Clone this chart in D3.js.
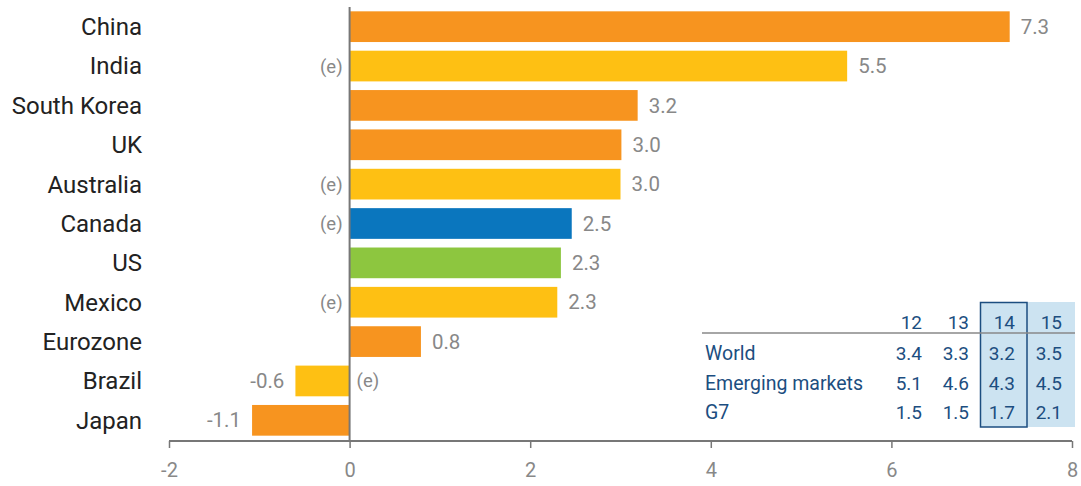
<!DOCTYPE html>
<html>
<head>
<meta charset="utf-8">
<script src="https://cdn.jsdelivr.net/npm/d3@7"></script>
<style>
  body { margin: 0; background: #fff; }
  svg { display: block; font-family: "Roboto", sans-serif; }
</style>
</head>
<body>
<div id="chart"></div>
<script>
// Bar data (bar lengths, labels shown to one decimal)
const countries = ["China", "India", "South Korea", "UK", "Australia", "Canada", "US", "Mexico", "Eurozone", "Brazil", "Japan"];
const growth = [7.31, 5.51, 3.19, 3.01, 3.0, 2.46, 2.34, 2.3, 0.79, -0.6, -1.08];
const estimated = [false, true, false, false, true, true, false, true, false, true, false];
const kinds = ["actual", "estimate", "actual", "actual", "estimate", "home", "us", "estimate", "actual", "estimate", "actual"];
const xTicks = [-2, 0, 2, 4, 6, 8];

// Inset table data
const tableYears = ["12", "13", "14", "15"];
const tableRows = ["World", "Emerging markets", "G7"];
const tableValues = [
  [3.4, 3.3, 3.2, 3.5],
  [5.1, 4.6, 4.3, 4.5],
  [1.5, 1.5, 1.7, 2.1]
];

const W = 1081, H = 486;

const svg = d3.select("#chart")
  .append("svg")
  .attr("width", W)
  .attr("height", H);

const x = d3.scaleLinear()
  .domain([-2, 8])
  .range([169, 1072]);

const y = d3.scaleBand()
  .domain(countries)
  .range([7, 440])
  .paddingInner(0.22)
  .paddingOuter(0.11);

const colour = d3.scaleOrdinal()
  .domain(["actual", "estimate", "home", "us"])
  .range(["#F7941F", "#FEC013", "#0A76BE", "#8DC63F"]);

const axisY = 441;
const fmt = d => d3.format(".1f")(d).replace("−", "-");

// bars
svg.append("g")
  .selectAll("rect")
  .data(countries)
  .join("rect")
  .attr("x", (d, i) => x(Math.min(0, growth[i])))
  .attr("y", d => y(d))
  .attr("width", (d, i) => Math.abs(x(growth[i]) - x(0)))
  .attr("height", y.bandwidth())
  .attr("fill", (d, i) => colour(kinds[i]));

// zero line
svg.append("line")
  .attr("x1", x(0)).attr("x2", x(0))
  .attr("y1", 7).attr("y2", axisY)
  .attr("stroke", "#777")
  .attr("stroke-width", 2);

// x axis
const xAxis = svg.append("g")
  .attr("transform", `translate(0,${axisY})`)
  .call(d3.axisBottom(x).tickValues(xTicks).tickSize(7).tickPadding(15).tickFormat(d => String(d)));
xAxis.select(".domain").attr("stroke", "#777").attr("stroke-width", 2).attr("d", `M${x(-2)},0H${x(8)}`);
xAxis.selectAll(".tick line").attr("stroke", "#777").attr("stroke-width", 1.5);
xAxis.selectAll(".tick text")
  .attr("fill", "#888")
  .style("font-size", "20px")
  .style("font-family", "Roboto, sans-serif");

// category labels
svg.append("g")
  .selectAll("text")
  .data(countries)
  .join("text")
  .attr("x", 142)
  .attr("y", d => y(d) + y.bandwidth() / 2)
  .attr("dy", "0.35em")
  .attr("text-anchor", "end")
  .attr("fill", "#222")
  .style("font-size", "24px")
  .text(d => d);

// value labels
svg.append("g")
  .selectAll("text")
  .data(countries)
  .join("text")
  .attr("x", (d, i) => growth[i] >= 0 ? x(growth[i]) + 11 : x(growth[i]) - 11)
  .attr("y", d => y(d) + y.bandwidth() / 2)
  .attr("dy", "0.35em")
  .attr("text-anchor", (d, i) => growth[i] >= 0 ? "start" : "end")
  .attr("fill", "#888")
  .style("font-size", "20.5px")
  .text((d, i) => fmt(growth[i]));

// (e) markers on the opposite side of zero
svg.append("g")
  .selectAll("text")
  .data(countries.filter((d, i) => estimated[i]))
  .join("text")
  .attr("x", d => growth[countries.indexOf(d)] >= 0 ? x(0) - 7 : x(0) + 7)
  .attr("y", d => y(d) + y.bandwidth() / 2)
  .attr("dy", "0.35em")
  .attr("text-anchor", d => growth[countries.indexOf(d)] >= 0 ? "end" : "start")
  .attr("fill", "#888")
  .style("font-size", "18.5px")
  .text("(e)");

// inset table
const navy = "#1C4E80";
const colRight = [922, 969, 1015, 1062];
const rowY = [353, 383, 412];
const headY = 322;
const table = svg.append("g");

table.append("rect")
  .attr("x", 1027).attr("y", 302)
  .attr("width", 48).attr("height", 125)
  .attr("fill", "#CCE3F1");
table.append("rect")
  .attr("x", 980.5).attr("y", 302.5)
  .attr("width", 46.5).attr("height", 124.5)
  .attr("fill", "#CCE3F1")
  .attr("stroke", navy)
  .attr("stroke-width", 1.5);

table.append("line")
  .attr("x1", 702).attr("x2", 1075)
  .attr("y1", 333).attr("y2", 333)
  .attr("stroke", "#888")
  .attr("stroke-width", 1.5);

table.selectAll(".year")
  .data(tableYears)
  .join("text")
  .attr("class", "year")
  .attr("x", (d, i) => colRight[i])
  .attr("y", headY)
  .attr("dy", "0.35em")
  .attr("text-anchor", "end")
  .attr("fill", navy)
  .style("font-size", "19px")
  .text(d => d);

tableRows.forEach((row, r) => {
  table.append("text")
    .attr("x", 705)
    .attr("y", rowY[r])
    .attr("dy", "0.35em")
    .attr("fill", navy)
    .style("font-size", "19.5px")
    .text(row);
  table.selectAll(`.v${r}`)
    .data(tableValues[r])
    .join("text")
    .attr("class", `v${r}`)
    .attr("x", (d, i) => colRight[i])
    .attr("y", rowY[r])
    .attr("dy", "0.35em")
    .attr("text-anchor", "end")
    .attr("fill", navy)
    .style("font-size", "19px")
    .text(d => fmt(d));
});
</script>
</body>
</html>
